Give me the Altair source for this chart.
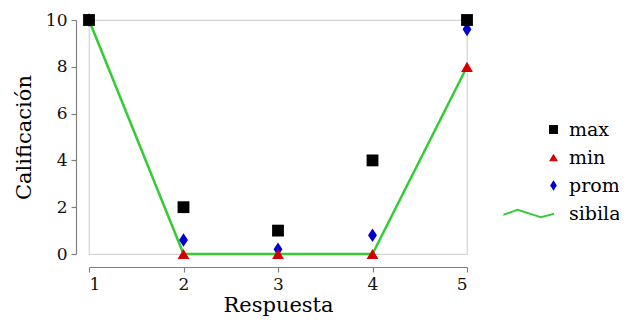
import altair as alt
import pandas as pd

respuesta = [1, 2, 3, 4, 5]
max_vals = [10, 2, 1, 4, 10]
min_vals = [10, 0, 0, 0, 8]
prom_vals = [10, 0.6, 0.2, 0.8, 9.6]
sibila_vals = [10, 0, 0, 0, 8]

series_order = ["max", "min", "prom", "sibila"]
colors = ["#000000", "#d40000", "#0000cc", "#33cc33"]

diamond = "M0,-1.15L0.75,0L0,1.15L-0.75,0Z"
zigzag = ("M-11.2,0.08L-8.05,-1.05L-2.84,0.61L0.15,-0.15"
          "L0.15,0.29L-2.84,1.05L-8.05,-0.61L-11.2,0.52Z")
shapes = ["square", "triangle-up", diamond, zigzag]

rows = []
for name, vals in [("prom", prom_vals), ("min", min_vals), ("max", max_vals)]:
    for x, v in zip(respuesta, vals):
        rows.append({"Respuesta": x, "valor": v, "serie": name})
points_df = pd.DataFrame(rows)
line_df = pd.DataFrame({"Respuesta": respuesta, "valor": sibila_vals})

FONT = "DejaVu Serif"

x_enc = alt.X("Respuesta:Q", scale=alt.Scale(domain=[1, 5], nice=False),
              axis=alt.Axis(values=respuesta, title="Respuesta", format="d"))
y_enc = alt.Y("valor:Q", scale=alt.Scale(domain=[0, 10], nice=False),
              axis=alt.Axis(values=[0, 2, 4, 6, 8, 10], title="Calificación"))

line = alt.Chart(line_df).mark_line(color="#33cc33", strokeWidth=2.5).encode(
    x=x_enc, y=y_enc
)

pts = alt.Chart(points_df).mark_point(filled=True, opacity=1, size=140).encode(
    x=x_enc, y=y_enc,
    color=alt.Color("serie:N", scale=alt.Scale(domain=series_order, range=colors),
                    legend=alt.Legend(title=None, orient="none", legendX=455, legendY=100)),
    shape=alt.Shape("serie:N", scale=alt.Scale(domain=series_order, range=shapes),
                    legend=alt.Legend(title=None, orient="none", legendX=455, legendY=100)),
)

chart = alt.layer(line, pts).properties(
    width=378, height=234,
    autosize=alt.AutoSizeParams(type="none"),
    padding={"left": 81, "top": 12, "right": 152, "bottom": 64},
).configure_view(
    stroke="#d4d4d4", strokeWidth=1.2
).configure_axis(
    domainColor="#808080", tickColor="#808080", tickSize=5, offset=13,
    labelFont=FONT, titleFont=FONT, labelFontSize=17, titleFontSize=21,
    labelColor="#111111", titleColor="#000000", titleFontWeight="normal",
    grid=False, domainWidth=1.2, tickWidth=1.2,
).configure_axisX(
    labelPadding=4, titlePadding=2,
).configure_axisY(
    labelPadding=4, titlePadding=11,
).configure_legend(
    labelFont=FONT, labelFontSize=19, labelColor="#000000", symbolSize=80,
    rowPadding=8, labelOffset=6, symbolStrokeWidth=0,
)

chart.save("out.html", embed_options={"renderer": "svg", "actions": False})
